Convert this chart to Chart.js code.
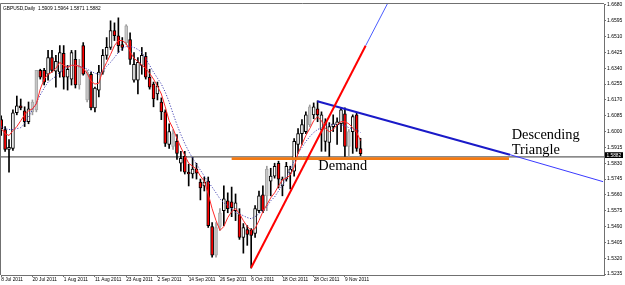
<!DOCTYPE html>
<html><head><meta charset="utf-8">
<script src="https://cdn.jsdelivr.net/npm/chart.js@4/dist/chart.umd.min.js"></script>
<style>html,body{margin:0;padding:0;background:#fff;}canvas{display:block;}</style>
</head><body>
<canvas id="c" width="625" height="285"></canvas>
<script>
const symbolTitle = 'GBPUSD,Daily';
const opens  = [1.6064,1.6011,1.5904,1.5910,1.6101,1.6138,1.6112,1.6053,1.6106,1.6117,
                1.6329,1.6329,1.6308,1.6398,1.6324,1.6319,1.6420,1.6292,1.6282,1.6388,
                1.6250,1.6462,1.6170,1.6308,1.6127,1.6223,1.6319,1.6409,1.6452,1.6542,
                1.6515,1.6467,1.6478,1.6494,1.6276,1.6276,1.6356,1.6404,1.6292,1.6255,
                1.6202,1.6159,1.6106,1.5931,1.5920,1.5947,1.5830,1.5867,1.5782,1.5772,
                1.5798,1.5729,1.5708,1.5734,1.5490,1.5336,1.5490,1.5575,1.5628,1.5623,
                1.5575,1.5554,1.5432,1.5474,1.5469,1.5453,1.5575,1.5660,1.5655,1.5734,
                1.5761,1.5830,1.5708,1.5745,1.5777,1.5787,1.5931,1.5989,1.6000,1.6037,
                1.6090,1.6122,1.6011,1.5947,1.5942,1.6027,1.6037,1.6042,1.6096,1.5920,
                1.6000,1.6090,1.5909];
const highs  = [1.6085,1.6027,1.5957,1.6117,1.6191,1.6175,1.6133,1.6159,1.6170,1.6329,
                1.6335,1.6340,1.6436,1.6436,1.6409,1.6462,1.6462,1.6356,1.6436,1.6436,
                1.6388,1.6478,1.6329,1.6319,1.6239,1.6356,1.6441,1.6505,1.6595,1.6584,
                1.6611,1.6505,1.6574,1.6531,1.6425,1.6398,1.6452,1.6425,1.6335,1.6266,
                1.6266,1.6181,1.6117,1.6042,1.6011,1.5984,1.5894,1.5894,1.5825,1.5862,
                1.5830,1.5745,1.5756,1.5756,1.5511,1.5511,1.5586,1.5708,1.5671,1.5702,
                1.5665,1.5586,1.5506,1.5495,1.5479,1.5602,1.5681,1.5708,1.5814,1.5803,
                1.5830,1.5841,1.5756,1.5835,1.5814,1.5963,1.6016,1.6064,1.6106,1.6143,
                1.6154,1.6165,1.6106,1.6069,1.6048,1.6090,1.6074,1.6127,1.6127,1.6011,
                1.6090,1.6101,1.5964];
const lows   = [1.5979,1.5894,1.5782,1.5899,1.6090,1.6117,1.6027,1.6042,1.6090,1.6106,
                1.6282,1.6250,1.6276,1.6319,1.6239,1.6292,1.6228,1.6223,1.6250,1.6234,
                1.6228,1.6303,1.6159,1.6117,1.6106,1.6186,1.6308,1.6388,1.6441,1.6489,
                1.6425,1.6436,1.6467,1.6361,1.6266,1.6202,1.6308,1.6282,1.6228,1.6133,
                1.6170,1.6064,1.5920,1.5910,1.5904,1.5851,1.5787,1.5772,1.5708,1.5750,
                1.5745,1.5633,1.5681,1.5485,1.5325,1.5325,1.5469,1.5495,1.5564,1.5543,
                1.5522,1.5421,1.5347,1.5389,1.5267,1.5432,1.5564,1.5564,1.5575,1.5655,
                1.5750,1.5697,1.5655,1.5734,1.5692,1.5761,1.5883,1.5931,1.5989,1.6027,
                1.6069,1.6053,1.5894,1.5894,1.5867,1.6000,1.5931,1.6000,1.5867,1.5867,
                1.5883,1.5894,1.5871];
const closes = [1.6016,1.5904,1.5915,1.6101,1.6138,1.6127,1.6053,1.6122,1.6159,1.6329,
                1.6292,1.6266,1.6398,1.6329,1.6377,1.6425,1.6292,1.6335,1.6425,1.6250,
                1.6345,1.6308,1.6319,1.6127,1.6234,1.6319,1.6409,1.6452,1.6542,1.6515,
                1.6462,1.6452,1.6568,1.6388,1.6361,1.6372,1.6409,1.6292,1.6239,1.6175,
                1.6244,1.6106,1.5936,1.6000,1.5989,1.5883,1.5857,1.5782,1.5772,1.5798,
                1.5777,1.5697,1.5729,1.5495,1.5336,1.5485,1.5564,1.5639,1.5586,1.5591,
                1.5617,1.5432,1.5485,1.5447,1.5442,1.5586,1.5655,1.5575,1.5798,1.5761,
                1.5814,1.5745,1.5745,1.5814,1.5798,1.5947,1.5989,1.6037,1.6090,1.6133,
                1.6133,1.6090,1.6090,1.6053,1.6027,1.6042,1.6053,1.6117,1.5920,1.6000,
                1.6080,1.5910,1.5882];
const greyBars = [8,9,20,22,32,44,55,56,68,79,89];
const maFast = [1.6016,1.5989,1.5979,1.6005,1.6027,1.6058,1.6090,1.6112,1.6122,1.6149,
                1.6228,1.6282,1.6308,1.6319,1.6340,1.6372,1.6356,1.6345,1.6356,1.6356,
                1.6351,1.6340,1.6313,1.6271,1.6255,1.6260,1.6329,1.6372,1.6414,1.6462,
                1.6489,1.6489,1.6473,1.6430,1.6393,1.6377,1.6356,1.6340,1.6313,1.6282,
                1.6244,1.6202,1.6133,1.6058,1.6016,1.5963,1.5915,1.5872,1.5830,1.5814,
                1.5798,1.5761,1.5734,1.5665,1.5586,1.5522,1.5469,1.5490,1.5538,1.5570,
                1.5586,1.5559,1.5522,1.5490,1.5469,1.5479,1.5522,1.5570,1.5607,1.5644,
                1.5671,1.5708,1.5740,1.5750,1.5766,1.5809,1.5883,1.5931,1.5979,1.6016,
                1.6058,1.6080,1.6058,1.6016,1.6000,1.6011,1.6037,1.6053,1.6053,1.6042,
                1.6021,1.5995,1.5952];
const maSlow = [1.6027,1.6016,1.6011,1.6011,1.6016,1.6021,1.6042,1.6080,1.6117,1.6154,
                1.6197,1.6234,1.6266,1.6282,1.6297,1.6319,1.6335,1.6351,1.6356,1.6356,
                1.6351,1.6345,1.6335,1.6324,1.6313,1.6308,1.6324,1.6351,1.6372,1.6398,
                1.6425,1.6446,1.6457,1.6457,1.6452,1.6441,1.6425,1.6393,1.6356,1.6319,
                1.6287,1.6255,1.6212,1.6159,1.6096,1.6037,1.5984,1.5936,1.5894,1.5857,
                1.5825,1.5793,1.5761,1.5729,1.5702,1.5671,1.5639,1.5617,1.5602,1.5586,
                1.5564,1.5559,1.5548,1.5538,1.5532,1.5543,1.5559,1.5575,1.5596,1.5628,
                1.5649,1.5681,1.5713,1.5750,1.5798,1.5841,1.5883,1.5915,1.5947,1.5973,
                1.5995,1.6011,1.6021,1.6032,1.6037,1.6037,1.6037,1.6037,1.6032,1.6021,
                1.6016,1.6011,1.5995];
const xTickBars = [0,8,16,24,32,40,48,56,64,72,80,88];
const xTickLabels = ['8 Jul 2011','20 Jul 2011','1 Aug 2011','11 Aug 2011','23 Aug 2011','2 Sep 2011',
                     '14 Sep 2011','26 Sep 2011','6 Oct 2011','18 Oct 2011','28 Oct 2011','9 Nov 2011'];
const yTickValues = [1.6680,1.6595,1.6510,1.6425,1.6340,1.6255,1.6170,1.6085,1.6000,
                     1.5915,1.5830,1.5745,1.5660,1.5575,1.5490,1.5405,1.5320,1.5235];
const bidLevel = 1.5864;
const lastPrice = 1.5882;
const demandLevel = 1.5855;
const demandSpan = [59.0, 130.0];
const upTrend = [[63.95,1.5267],[93.3,1.6461]];
const upTrendExt = [[93.3,1.6461],[100.3,1.6744]];
const downTrend = [[80.93,1.6163],[130.26,1.5876]];
const downTrendExt = [[130.26,1.5876],[154.1,1.5731]];
const labelDemand = {text:'Demand', bar:81.2, price:1.5794};
const labelTriangle = [{text:'Descending', bar:130.7, price:1.5959},{text:'Triangle', bar:130.7, price:1.5878}];

const idx = opens.map((_, i) => i);
const isGrey = i => greyBars.includes(i);
const pts = arr => arr.map(p => ({x:p[0], y:p[1]}));

const overlay = {
  id:'overlay',
  afterDraw(chart){
    const {ctx, chartArea:a, scales:{x, y}} = chart;
    ctx.save();
    ctx.strokeStyle = '#707070'; ctx.lineWidth = 1;
    ctx.beginPath();
    ctx.moveTo(a.left - 0.5, a.bottom); ctx.lineTo(a.left - 0.5, a.top - 0.5); ctx.lineTo(a.right, a.top - 0.5);
    ctx.stroke();
    const n = opens.length - 1;
    ctx.fillStyle = '#000'; ctx.font = '4.8px "Liberation Sans"'; ctx.textBaseline = 'middle'; ctx.textAlign = 'left';
    ctx.fillText(symbolTitle + '  ' + [opens[n], highs[n], lows[n], closes[n]].map(v => v.toFixed(4)).join(' '), a.left + 2, a.top + 4.5);
    ctx.font = '14.4px "Liberation Serif"'; ctx.textBaseline = 'alphabetic';
    ctx.fillText(labelDemand.text, x.getPixelForValue(labelDemand.bar), y.getPixelForValue(labelDemand.price));
    labelTriangle.forEach(l => ctx.fillText(l.text, x.getPixelForValue(l.bar), y.getPixelForValue(l.price)));
    const cy = y.getPixelForValue(bidLevel) - 1.8;
    ctx.fillStyle = '#000'; ctx.fillRect(a.right + 1, cy - 2.9, 18, 5.8);
    ctx.fillStyle = '#fff'; ctx.font = '4.8px "Liberation Sans"'; ctx.textBaseline = 'middle';
    ctx.fillText(lastPrice.toFixed(4), a.right + 2.5, cy + 0.2);
    ctx.restore();
  }
};

const lineDs = (data, color, width, order, dash) => ({
  type:'line', data, borderColor:color, borderWidth:width, pointRadius:0, tension:0,
  borderDash: dash || [], order, clip:0, fill:false
});

new Chart(document.getElementById('c'), {
  type:'bar',
  data:{datasets:[
    lineDs([{x:-1,y:bidLevel},{x:160,y:bidLevel}], '#3a3a3a', 1, 9),
    {type:'bar', data: idx.map(i => ({x:i, y:[lows[i], highs[i]]})),
     backgroundColor: idx.map(i => isGrey(i) ? '#9c9c9c' : '#000'), borderWidth:0,
     barThickness:1, grouped:false, order:8, clip:0},
    {type:'bar', data: idx.map(i => ({x:i, y:[Math.min(opens[i], closes[i]), Math.max(opens[i], closes[i])]})),
     backgroundColor: idx.map(i => isGrey(i) ? '#c6c6c6' : (closes[i] < opens[i] ? '#ff0000' : '#ffffff')),
     borderColor: idx.map(i => isGrey(i) ? '#a6a6a6' : '#000'), borderWidth:1, borderSkipped:false,
     barThickness:3, grouped:false, order:7, clip:0},
    lineDs(idx.map(i => ({x:i, y:maSlow[i]})), '#4646b4', 1, 4, [1.2, 1.6]),
    lineDs(idx.map(i => ({x:i, y:maFast[i]})), '#ff2a2a', 1, 3),
    lineDs([{x:demandSpan[0], y:demandLevel},{x:demandSpan[1], y:demandLevel}], '#f47a12', 2.8, 2),
    lineDs(pts(upTrendExt), '#4a5cff', 1, 1),
    lineDs(pts(downTrendExt), '#3a3aff', 1, 1),
    lineDs(pts(upTrend), '#ff0000', 2, 0),
    lineDs(pts(downTrend), '#1a1ac8', 2, 0)
  ]},
  options:{
    responsive:false, animation:false, devicePixelRatio:1,
    layout:{padding:{left:1, top:1, right:0, bottom:0}},
    plugins:{legend:{display:false}, tooltip:{enabled:false}, title:{display:false}},
    scales:{
      x:{type:'linear', min:-0.0512, max:154.33, offset:false,
        grid:{display:true, drawOnChartArea:false, tickLength:2, color:'#707070', offset:false},
        border:{display:true, color:'#707070'},
        afterBuildTicks: s => { s.ticks = xTickBars.map(v => ({value:v})); },
        afterFit: s => { s.height = 10; },
        ticks:{autoSkip:false, maxRotation:0, minRotation:0, align:'start', padding:0, color:'#000',
          font:{family:'Liberation Sans', size:4.8}, callback:(v, i) => xTickLabels[i]}},
      y:{type:'linear', position:'right', min:1.52297, max:1.66853,
        grid:{display:true, drawOnChartArea:false, tickLength:2, color:'#707070'},
        border:{display:true, color:'#707070'},
        afterBuildTicks: s => { s.ticks = yTickValues.map(v => ({value:v})); },
        afterFit: s => { s.width = 21; },
        ticks:{padding:1, color:'#000', font:{family:'Liberation Sans', size:5}, callback:v => v.toFixed(4)}}
    }
  },
  plugins:[overlay]
});
</script>
</body></html>
